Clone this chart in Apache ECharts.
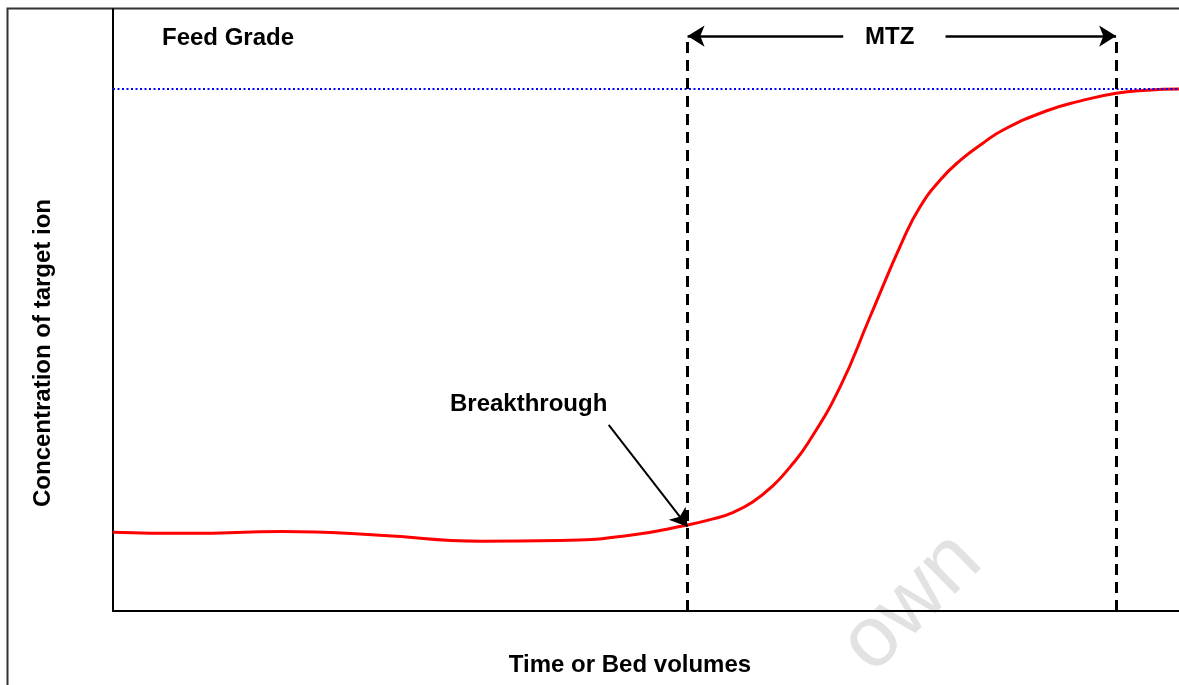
<!DOCTYPE html>
<html>
<head>
<meta charset="utf-8">
<script src="https://cdn.jsdelivr.net/npm/echarts@6/dist/echarts.min.js"></script>
<style>
  html, body { margin: 0; padding: 0; background: #fff; }
  #chart { width: 1179px; height: 685px; }
</style>
</head>
<body>
<div id="chart"></div>
<script>
// breakthrough curve (x: bed volumes 0-100, y: concentration 0-100)
const bedVolumes = [0, 7.2, 15.9, 25.0, 34.4, 41.9, 48.5, 53.9, 56.3, 58.2, 60.0, 61.9, 63.5, 65.2, 68.2, 71.0, 74.1, 75.7, 77.6, 79.5, 81.6, 83.5, 87.6, 90.7, 94.1, 97.0, 100];
const concentration = [13.1, 12.9, 13.2, 12.6, 11.6, 11.7, 12.6, 14.3, 15.3, 16.4, 18.1, 20.8, 23.9, 27.9, 37.2, 48.8, 61.6, 67.1, 71.6, 74.9, 77.7, 79.9, 83.1, 84.7, 86.0, 86.5, 86.7];

const feedGrade = 86.7;
const breakthroughX = 53.9;
const exhaustionX = 94.1;
const markerTop = 95.5;
const mtzGap = [68.5, 78.1];
const breakthroughArrowStart = [46.5, 30.9];
const breakthroughArrowEnd = [53.9, 14.0];

const font = '"Liberation Sans", Arial, sans-serif';

const chart = echarts.init(document.getElementById('chart'));

const curveData = bedVolumes.map((x, i) => [x, concentration[i]]);

chart.setOption({
  animation: false,
  grid: { left: 113, right: 0, top: 9, bottom: 74 },
  xAxis: {
    type: 'value', min: 0, max: 100,
    axisLine: { show: true, onZero: false, lineStyle: { color: '#000', width: 2 } },
    axisTick: { show: false }, axisLabel: { show: false }, splitLine: { show: false }
  },
  yAxis: {
    type: 'value', min: 0, max: 100,
    axisLine: { show: true, onZero: false, lineStyle: { color: '#000', width: 2 } },
    axisTick: { show: false }, axisLabel: { show: false }, splitLine: { show: false }
  },
  graphic: [
    {
      type: 'rect', silent: true, z: -1,
      shape: { x: 7.5, y: 8.5, width: 1200, height: 700 },
      style: { fill: 'none', stroke: '#333', lineWidth: 2 }
    },
    {
      type: 'text', left: 162, top: 26,
      style: { text: 'Feed Grade', font: 'bold 24px ' + font, fill: '#000' }
    },
    {
      type: 'text', left: 865, top: 25,
      style: { text: 'MTZ', font: 'bold 24px ' + font, fill: '#000' }
    },
    {
      type: 'text', left: 450, top: 392,
      style: { text: 'Breakthrough', font: 'bold 24px ' + font, fill: '#000' }
    },
    {
      type: 'text', x: 630, y: 665,
      style: { text: 'Time or Bed volumes', font: 'bold 24px ' + font, fill: '#000', align: 'center', verticalAlign: 'middle' }
    },
    {
      type: 'text', x: 43, y: 353, rotation: Math.PI / 2,
      style: { text: 'Concentration of target ion', font: 'bold 24px ' + font, fill: '#000', align: 'center', verticalAlign: 'middle' }
    },
    {
      type: 'text', x: 912, y: 603, rotation: 0.78, z: -1,
      style: { text: 'own', font: '86px ' + font, fill: '#e2e2e2', align: 'center', verticalAlign: 'middle' }
    }
  ],
  series: [
    {
      type: 'line',
      data: curveData,
      smooth: 0.5,
      showSymbol: false,
      lineStyle: { color: '#ff0000', width: 3 },
      z: 3,
      markLine: {
        silent: true,
        symbol: 'none',
        label: { show: false },
        data: [
          // feed grade level
          [
            { coord: [0, feedGrade], lineStyle: { color: '#0000ff', width: 2, type: [2, 2.5] } },
            { coord: [100, feedGrade] }
          ],
          // MTZ boundaries
          [
            { coord: [breakthroughX, 0], lineStyle: { color: '#000', width: 3, type: [11, 7] } },
            { coord: [breakthroughX, markerTop] }
          ],
          [
            { coord: [exhaustionX, 0], lineStyle: { color: '#000', width: 3, type: [11, 7] } },
            { coord: [exhaustionX, markerTop] }
          ]
        ]
      }
    },
    {
      type: 'line',
      data: [],
      markLine: {
        silent: true,
        symbol: ['none', 'arrow'],
        symbolSize: [16, 17],
        label: { show: false },
        lineStyle: { color: '#000', width: 2.5, type: 'solid' },
        data: [
          [{ coord: [mtzGap[0], markerTop] }, { coord: [breakthroughX, markerTop] }],
          [{ coord: [mtzGap[1], markerTop] }, { coord: [exhaustionX, markerTop] }],
          [
            { coord: breakthroughArrowStart, lineStyle: { width: 2 }, symbolSize: [15, 18] },
            { coord: breakthroughArrowEnd }
          ]
        ]
      }
    }
  ]
});
</script>
</body>
</html>
